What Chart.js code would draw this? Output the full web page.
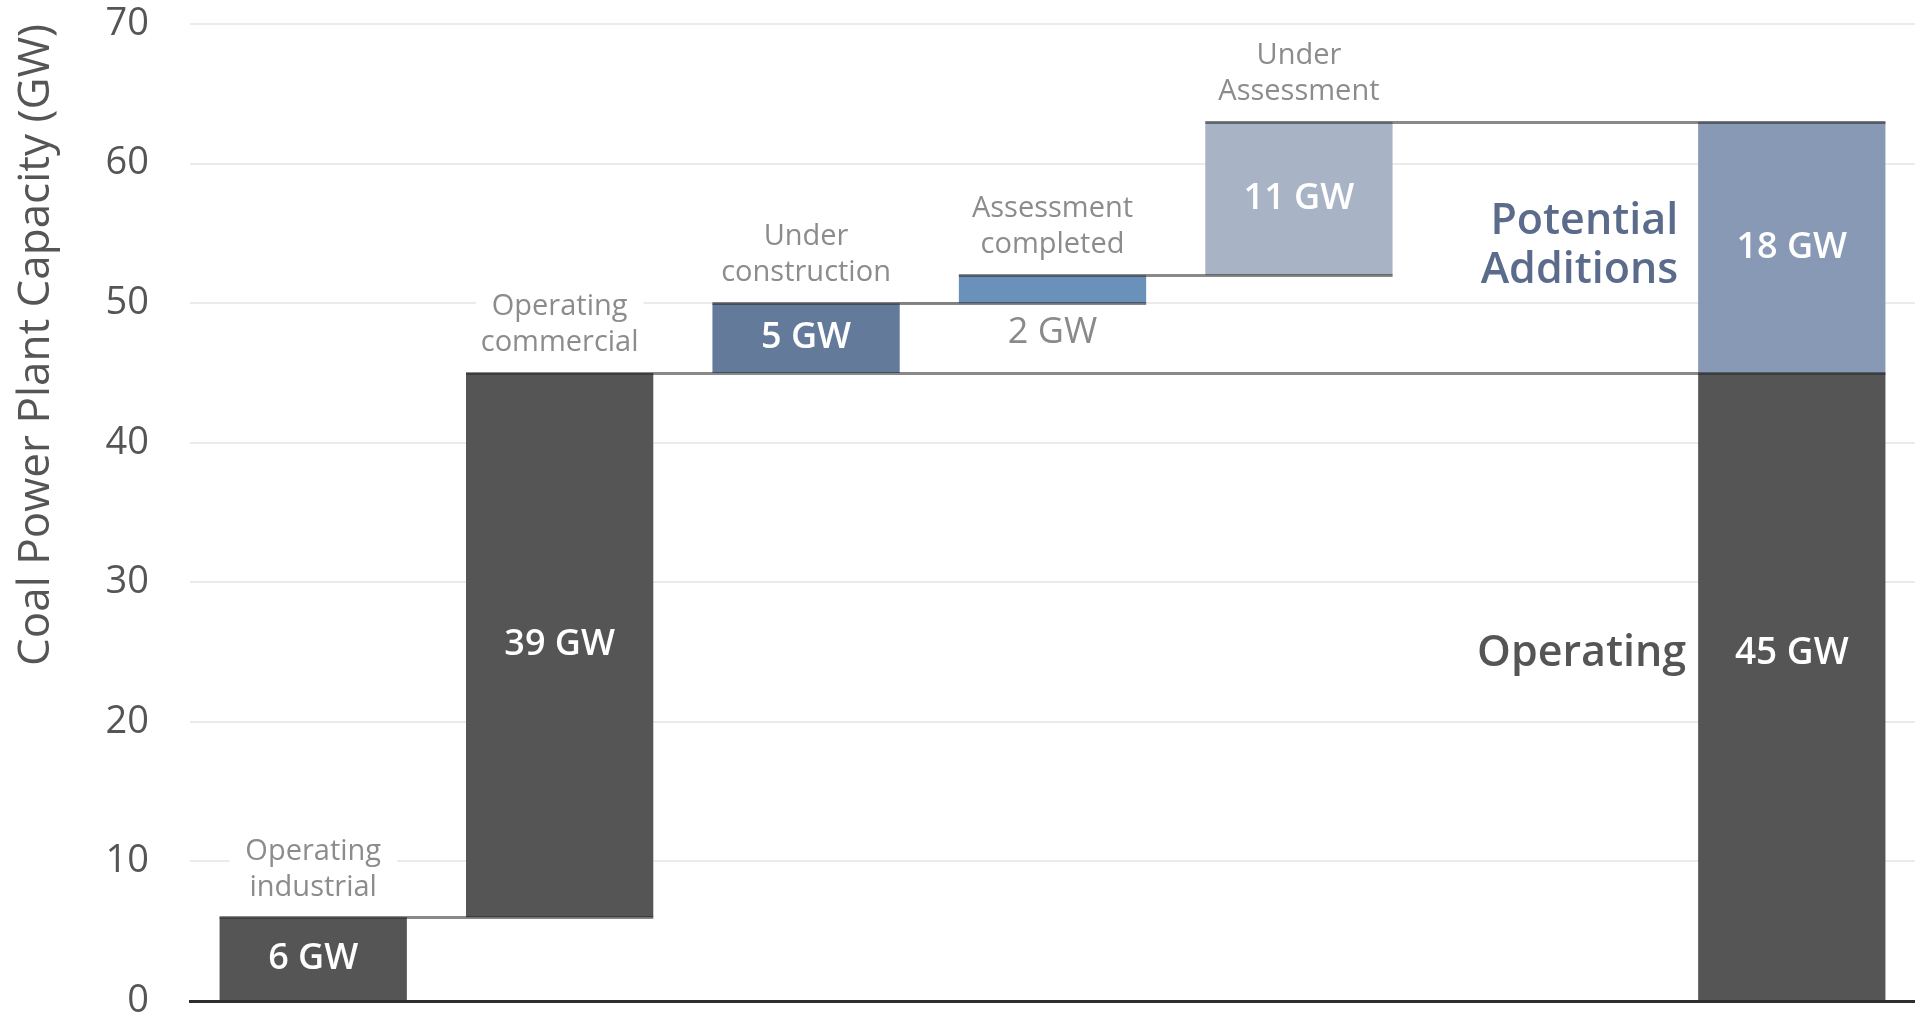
<!DOCTYPE html>
<html>
<head>
<meta charset="utf-8">
<script src="https://cdn.jsdelivr.net/npm/chart.js@4.4.1/dist/chart.umd.min.js"></script>
<style>
  html, body { margin: 0; padding: 0; background: #fff; }
  #wrap { width: 1915px; height: 1013px; position: relative; }
</style>
</head>
<body>
<div id="wrap"><canvas id="chart"></canvas></div>
<script>
// capacity steps, GW
const categories = ['Operating industrial', 'Operating commercial', 'Under construction', 'Assessment completed', 'Under Assessment', '', 'Total'];
const categoryLines = [['Operating', 'industrial'], ['Operating', 'commercial'], ['Under', 'construction'], ['Assessment', 'completed'], ['Under', 'Assessment'], [], []];
const stepStart = [0, 6, 45, 50, 52, null, 45];
const stepSize = [6, 39, 5, 2, 11, null, 18];
const operatingTotal = [null, null, null, null, null, null, 45];
const stepColors = ['#555555', '#555555', '#637a9b', '#6991ba', '#a9b3c6', '#ffffff', '#8799b4'];
const darkGray = '#555555';

const FONT = '"Open Sans", sans-serif';

const stepRanges = stepStart.map((s, i) => s === null ? null : [s, s + stepSize[i]]);
const operatingRanges = operatingTotal.map(v => v === null ? null : [0, v]);

function labelWithBox(ctx, text, x, y) {
  const w = ctx.measureText(text).width;
  ctx.fillStyle = '#ffffff';
  ctx.fillRect(x - w / 2 - 16, y - 17, w + 32, 34);
  ctx.fillStyle = '#8c8c8c';
  ctx.fillText(text, x, y);
}

const annotate = {
  id: 'annotate',
  afterDatasetsDraw(chart) {
    const ctx = chart.ctx;
    const steps = chart.getDatasetMeta(0).data;
    const ops = chart.getDatasetMeta(1).data;
    const y = chart.scales.y;
    const last = stepStart.length - 1;

    // connector lines between the steps
    ctx.save();
    ctx.strokeStyle = 'rgba(40,40,40,0.55)';
    ctx.lineWidth = 3;
    stepStart.forEach((s, i) => {
      if (s === null || i === last) return;
      const top = s + stepSize[i];
      let j = i;
      for (let k = i + 1; k < stepStart.length; k++) {
        if (stepStart[k] === null) continue;
        if (stepStart[k] === top || stepStart[k] + stepSize[k] === top) j = k;
      }
      const a = steps[i], b = steps[j];
      const py = Math.round(y.getPixelForValue(top)) + 0.5;
      ctx.beginPath();
      ctx.moveTo(a.x - a.width / 2, py);
      ctx.lineTo(b.x + b.width / 2, py);
      ctx.stroke();
    });

    // value labels
    ctx.textAlign = 'center';
    ctx.textBaseline = 'middle';
    stepStart.forEach((s, i) => {
      if (s === null) return;
      const el = steps[i];
      const h = el.base - el.y;
      if (h > 45) {
        ctx.font = '600 36px ' + FONT;
        ctx.fillStyle = '#ffffff';
        ctx.fillText(stepSize[i] + ' GW', el.x, (el.y + el.base) / 2);
      } else {
        ctx.font = '400 36px ' + FONT;
        ctx.fillStyle = '#8a8a8a';
        ctx.fillText(stepSize[i] + ' GW', el.x, el.base + 30);
      }
    });

    // category names above each step
    ctx.font = '400 29px ' + FONT;
    categoryLines.forEach((lines, i) => {
      if (!lines.length || !steps[i]) return;
      const el = steps[i];
      const n = lines.length;
      lines.forEach((t, k) => {
        labelWithBox(ctx, t, el.x, el.y - 30 - (n - 1 - k) * 36);
      });
    });

    // total column: operating + potential additions
    const op = ops[last];
    const add = steps[last];
    const opY = (op.y + op.base) / 2 - 33;
    ctx.font = '600 37px ' + FONT;
    ctx.fillStyle = '#ffffff';
    ctx.fillText(operatingTotal[last] + ' GW', op.x, opY);

    ctx.textAlign = 'right';
    ctx.font = '600 43px ' + FONT;
    ctx.fillStyle = '#555555';
    ctx.fillText('Operating', op.x - op.width / 2 - 12, opY);
    ctx.fillStyle = '#5b6b8b';
    const midAdd = (add.y + add.base) / 2;
    ctx.fillText('Potential', add.x - add.width / 2 - 20, midAdd - 26);
    ctx.fillText('Additions', add.x - add.width / 2 - 20, midAdd + 23);
    ctx.restore();
  }
};

new Chart(document.getElementById('chart'), {
  type: 'bar',
  data: {
    labels: categories,
    datasets: [
      {
        label: 'Step',
        data: stepRanges,
        backgroundColor: stepColors,
        grouped: false,
        barPercentage: 0.76,
        categoryPercentage: 1,
        borderWidth: 0
      },
      {
        label: 'Operating',
        data: operatingRanges,
        backgroundColor: darkGray,
        grouped: false,
        barPercentage: 0.76,
        categoryPercentage: 1,
        borderWidth: 0
      }
    ]
  },
  options: {
    responsive: true,
    maintainAspectRatio: false,
    animation: false,
    layout: { padding: { top: 24, right: 0, bottom: 12, left: 0 } },
    plugins: {
      legend: { display: false },
      tooltip: { enabled: false }
    },
    scales: {
      x: {
        ticks: { display: false },
        grid: { display: false, drawTicks: false },
        border: { display: true, color: '#2e2e2e', width: 3 }
      },
      y: {
        min: 0,
        max: 70,
        ticks: {
          stepSize: 10,
          padding: 41,
          color: '#555555',
          font: { family: FONT, size: 38 }
        },
        grid: { color: '#ebebeb', lineWidth: 2, drawTicks: false },
        border: { display: false },
        title: {
          display: true,
          text: 'Coal Power Plant Capacity (GW)',
          align: 'end',
          color: '#555555',
          font: { family: FONT, size: 44 },
          padding: { top: 10, bottom: 0 }
        },
        afterFit(scale) {
          scale.width = 190;
          scale.paddingTop = 0;
          scale.paddingBottom = 0;
        }
      }
    }
  },
  plugins: [annotate]
});
</script>
</body>
</html>
